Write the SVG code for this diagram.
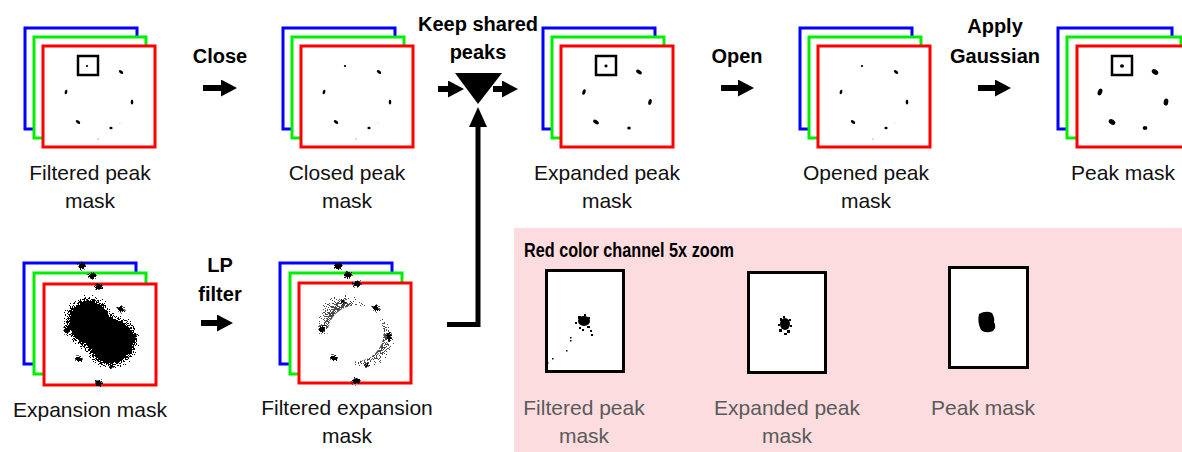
<svg xmlns="http://www.w3.org/2000/svg" width="1182" height="452" viewBox="0 0 1182 452">
<style>
.b{fill:#fff;stroke:#0000ff;stroke-width:3}
.g{fill:#fff;stroke:#00ee00;stroke-width:3}
.r{fill:#fff;stroke:#ff0000;stroke-width:3}
.zb{fill:none;stroke:#000;stroke-width:2.5}
.zbox{fill:#fff;stroke:#000;stroke-width:3}
.lbl{font-family:"Liberation Sans",Arial,sans-serif;font-size:21px;fill:#111;text-anchor:middle}
.plbl{font-family:"Liberation Sans",Arial,sans-serif;font-size:21px;fill:#5a5a5a;text-anchor:middle}
.op{font-family:"Liberation Sans",Arial,sans-serif;font-size:20px;font-weight:bold;fill:#000;text-anchor:middle}
.arr{stroke:#000;stroke-width:6;fill:none}
.dot{fill:#000}
</style>
<defs>
<marker id="ah" markerUnits="userSpaceOnUse" markerWidth="16" markerHeight="17" refX="0" refY="8.5" orient="auto"><path d="M0,0 L16,8.5 L0,17 Z" fill="#000"/></marker>
<marker id="ahv" markerUnits="userSpaceOnUse" markerWidth="20" markerHeight="18" refX="0" refY="9" orient="auto"><path d="M0,0 L20,9 L0,18 Z" fill="#000"/></marker>
<filter id="speck" x="-40%" y="-40%" width="180%" height="180%">
<feGaussianBlur in="SourceAlpha" stdDeviation="5" result="bl"/>
<feTurbulence type="fractalNoise" baseFrequency="1.2" numOctaves="1" seed="3" result="n"/>
<feComponentTransfer in="n" result="na"><feFuncA type="linear" slope="3.5" intercept="-1.2"/></feComponentTransfer>
<feColorMatrix in="na" type="matrix" values="0 0 0 0 0  0 0 0 0 0  0 0 0 0 0  0 0 0 1 0" result="nb"/>
<feComposite in="bl" in2="nb" operator="arithmetic" k2="2" k3="-1" k4="0" result="c"/>
<feComponentTransfer in="c"><feFuncA type="discrete" tableValues="0 1 1 1 1"/></feComponentTransfer>
</filter>
<filter id="speckS" x="-40%" y="-40%" width="180%" height="180%">
<feGaussianBlur in="SourceAlpha" stdDeviation="6" result="bl"/>
<feTurbulence type="fractalNoise" baseFrequency="1.2" numOctaves="1" seed="5" result="n"/>
<feComponentTransfer in="n" result="na"><feFuncA type="linear" slope="3.5" intercept="-1.2"/></feComponentTransfer>
<feColorMatrix in="na" type="matrix" values="0 0 0 0 0  0 0 0 0 0  0 0 0 0 0  0 0 0 1 0" result="nb"/>
<feComposite in="bl" in2="nb" operator="arithmetic" k2="1.15" k3="-1" k4="0" result="c"/>
<feComponentTransfer in="c"><feFuncA type="discrete" tableValues="0 1 1 1 1"/></feComponentTransfer>
</filter>
<filter id="speckL" x="-50%" y="-50%" width="200%" height="200%">
<feGaussianBlur in="SourceAlpha" stdDeviation="1.8" result="bl"/>
<feTurbulence type="fractalNoise" baseFrequency="1.3" numOctaves="1" seed="7" result="n"/>
<feComponentTransfer in="n" result="na"><feFuncA type="linear" slope="3" intercept="-1"/></feComponentTransfer>
<feColorMatrix in="na" type="matrix" values="0 0 0 0 0  0 0 0 0 0  0 0 0 0 0  0 0 0 1 0" result="nb"/>
<feComposite in="bl" in2="nb" operator="arithmetic" k2="1.8" k3="-1" k4="0" result="c"/>
<feComponentTransfer in="c"><feFuncA type="discrete" tableValues="0 0.6 1 1 1"/></feComponentTransfer>
</filter>
<filter id="soft"><feGaussianBlur stdDeviation="0.6"/></filter>
<g id="dotsSmall">
<ellipse cx="45" cy="21" rx="1.2" ry="1" class="dot"/>
<ellipse cx="79" cy="27" rx="2.5" ry="1.4" transform="rotate(35 79 27)" class="dot"/>
<ellipse cx="24" cy="47" rx="1.3" ry="2.3" transform="rotate(15 24 47)" class="dot"/>
<ellipse cx="90" cy="57" rx="1.3" ry="2.5" class="dot"/>
<ellipse cx="36" cy="77" rx="2.5" ry="1.4" transform="rotate(35 36 77)" class="dot"/>
<ellipse cx="69" cy="83" rx="1.6" ry="1.2" class="dot"/>
<circle cx="56" cy="94" r="0.7" fill="#999"/>
<circle cx="78" cy="78" r="0.6" fill="#bbb"/>
</g>
<g id="dotsMed">
<ellipse cx="46" cy="21" rx="1.6" ry="1.4" class="dot"/>
<ellipse cx="79" cy="27" rx="3.2" ry="1.8" transform="rotate(35 79 27)" class="dot"/>
<ellipse cx="24" cy="47" rx="1.6" ry="2.8" transform="rotate(20 24 47)" class="dot"/>
<ellipse cx="90" cy="57" rx="1.7" ry="3" transform="rotate(10 90 57)" class="dot"/>
<ellipse cx="36" cy="77" rx="3.2" ry="1.8" transform="rotate(35 36 77)" class="dot"/>
<ellipse cx="69" cy="83" rx="1.8" ry="1.5" class="dot"/>
</g>
<g id="dotsBig">
<ellipse cx="46" cy="21" rx="2" ry="1.8" class="dot"/>
<ellipse cx="79" cy="27" rx="3.6" ry="2.4" transform="rotate(35 79 27)" class="dot"/>
<ellipse cx="24" cy="47" rx="2.2" ry="3.5" transform="rotate(20 24 47)" class="dot"/>
<ellipse cx="90" cy="57" rx="2.3" ry="3.6" transform="rotate(10 90 57)" class="dot"/>
<ellipse cx="36" cy="77" rx="3.6" ry="2.5" transform="rotate(35 36 77)" class="dot"/>
<ellipse cx="69" cy="83" rx="2.3" ry="2" class="dot"/>
</g>
<g id="peaksFuzzy">
<ellipse cx="45" cy="20" rx="2.5" ry="2"/>
<ellipse cx="78" cy="26" rx="4" ry="2.5" transform="rotate(35 78 26)"/>
<ellipse cx="24" cy="47" rx="2.5" ry="4" transform="rotate(15 24 47)"/>
<ellipse cx="91" cy="55" rx="2.5" ry="4"/>
<ellipse cx="36" cy="76" rx="4" ry="2.5" transform="rotate(35 36 76)"/>
<ellipse cx="69" cy="83" rx="2.5" ry="2"/>
</g>
<g id="blob">
<ellipse cx="47" cy="40" rx="21" ry="23" transform="rotate(-30 47 40)"/>
<ellipse cx="69" cy="59" rx="23" ry="21" transform="rotate(-30 69 59)"/>
<ellipse cx="58" cy="50" rx="27" ry="15" transform="rotate(40 58 50)"/>
</g>
</defs>

<rect id="zoom-panel" x="514" y="228" width="668" height="224" fill="#fcdcde"/>

<g id="filtered-peak-mask">
<rect class="b" x="25" y="28" width="112" height="101"/>
<rect class="g" x="34" y="37" width="112" height="101"/>
<rect class="r" x="43" y="46" width="112" height="101"/>
<g transform="translate(42 45)"><use href="#dotsSmall"/><rect class="zb" x="36" y="11" width="20" height="19"/></g>
<text class="lbl" x="90" y="180">Filtered peak</text>
<text class="lbl" x="90" y="208">mask</text>
</g>

<g id="closed-peak-mask">
<rect class="b" x="283" y="28" width="112" height="101"/>
<rect class="g" x="292" y="37" width="112" height="101"/>
<rect class="r" x="301" y="46" width="112" height="101"/>
<g transform="translate(300 45)"><use href="#dotsSmall"/></g>
<text class="lbl" x="347" y="180">Closed peak</text>
<text class="lbl" x="347" y="208">mask</text>
</g>

<g id="keep-shared-peaks">
<polygon points="455,73 502,73 478,104" fill="#000"/>
<text class="op" x="478" y="31">Keep shared</text>
<text class="op" x="478" y="59">peaks</text>
</g>

<g id="expanded-peak-mask">
<rect class="b" x="543" y="28" width="112" height="101"/>
<rect class="g" x="552" y="37" width="112" height="101"/>
<rect class="r" x="561" y="46" width="112" height="101"/>
<g transform="translate(560 45)"><use href="#dotsMed"/><rect class="zb" x="36" y="11" width="20" height="19"/></g>
<text class="lbl" x="607" y="180">Expanded peak</text>
<text class="lbl" x="607" y="208">mask</text>
</g>

<g id="opened-peak-mask">
<rect class="b" x="800" y="28" width="112" height="101"/>
<rect class="g" x="809" y="37" width="112" height="101"/>
<rect class="r" x="818" y="46" width="112" height="101"/>
<g transform="translate(817 45)"><use href="#dotsSmall"/></g>
<text class="lbl" x="866" y="180">Opened peak</text>
<text class="lbl" x="866" y="208">mask</text>
</g>

<g id="peak-mask">
<rect class="b" x="1058" y="28" width="114" height="101"/>
<rect class="g" x="1067" y="37" width="114" height="101"/>
<rect class="r" x="1077" y="46" width="114" height="101"/>
<g transform="translate(1076 45)"><use href="#dotsBig"/><rect class="zb" x="36" y="11" width="20" height="19"/></g>
<text class="lbl" x="1123" y="180">Peak mask</text>
</g>

<g id="expansion-mask">
<rect class="b" x="24" y="263" width="112" height="101"/>
<ellipse cx="82" cy="266" rx="4" ry="3" class="dot" filter="url(#speckL)"/>
<rect class="g" x="34" y="273" width="112" height="101"/>
<ellipse cx="92" cy="276" rx="4" ry="3" class="dot" filter="url(#speckL)"/>
<rect class="r" x="44" y="284" width="112" height="101"/>
<g transform="translate(43 283)">
<use href="#blob" filter="url(#speck)"/>
<g filter="url(#speckL)">
<ellipse cx="56" cy="4" rx="4" ry="3"/>
<ellipse cx="56" cy="100" rx="4" ry="3"/>
<use href="#peaksFuzzy"/>
</g>
</g>
<text class="lbl" x="90" y="417">Expansion mask</text>
</g>

<g id="filtered-expansion-mask">
<rect class="b" x="280" y="263" width="112" height="101"/>
<ellipse cx="338" cy="266" rx="4" ry="3" class="dot" filter="url(#speckL)"/>
<rect class="g" x="290" y="273" width="112" height="101"/>
<ellipse cx="348" cy="275" rx="4" ry="3" class="dot" filter="url(#speckL)"/>
<rect class="r" x="299" y="283" width="112" height="100"/>
<g transform="translate(298 282)">
<use href="#blob" filter="url(#speckS)" opacity="0.7"/>
<circle cx="57.5" cy="51.5" r="28" fill="#fff"/>
<g filter="url(#speckL)">
<ellipse cx="59" cy="2" rx="4" ry="3"/>
<ellipse cx="58" cy="99" rx="4" ry="3"/>
<use href="#peaksFuzzy"/>
</g>
</g>
<text class="lbl" x="347" y="415">Filtered expansion</text>
<text class="lbl" x="347" y="443">mask</text>
</g>

<g id="connectors">
<line class="arr" x1="203" y1="88" x2="221" y2="88" marker-end="url(#ah)"/>
<line class="arr" x1="438" y1="89" x2="448" y2="89" marker-end="url(#ah)"/>
<line class="arr" x1="493" y1="89" x2="502" y2="89" marker-end="url(#ah)"/>
<line class="arr" x1="721" y1="88" x2="738" y2="88" marker-end="url(#ah)"/>
<line class="arr" x1="978" y1="88" x2="995" y2="88" marker-end="url(#ah)"/>
<line class="arr" x1="201" y1="323" x2="217" y2="323" marker-end="url(#ah)"/>
<polyline points="447,324.5 478,324.5 478,127" fill="none" stroke="#000" stroke-width="5" marker-end="url(#ahv)"/>
<text class="op" x="220" y="63">Close</text>
<text class="op" x="737" y="63">Open</text>
<text class="op" x="995" y="33">Apply</text>
<text class="op" x="995" y="63">Gaussian</text>
<text class="op" x="220" y="272">LP</text>
<text class="op" x="220" y="301">filter</text>
</g>

<g id="zoom-title">
<text x="524" y="257" font-family="Liberation Sans,Arial,sans-serif" font-size="20" font-weight="bold" textLength="210" lengthAdjust="spacingAndGlyphs">Red color channel 5x zoom</text>
</g>

<g id="zoom-filtered-peak">
<rect class="zbox" x="546.5" y="270.5" width="77" height="101"/>
<g filter="url(#soft)">
<ellipse cx="584" cy="321" rx="6" ry="5"/>
<rect x="578" y="316" width="3" height="3"/><rect x="588" y="317" width="2" height="2"/><rect x="587" y="326" width="3" height="2"/>
<rect x="579" y="327" width="2" height="2"/><rect x="590" y="330" width="2" height="2"/><rect x="591" y="334" width="2" height="2"/>
<rect x="575" y="322" width="2" height="2"/><rect x="584" y="314" width="2" height="2"/><rect x="582" y="329" width="2" height="2"/>
<rect x="570" y="337" width="1.5" height="1.5"/><rect x="570" y="340" width="1.5" height="1.5"/><rect x="566" y="350" width="1.5" height="1.5"/>
<rect x="552" y="358" width="1.5" height="1.5"/><rect x="547" y="362" width="1.5" height="1.5"/>
</g>
<text class="plbl" x="584" y="415">Filtered peak</text>
<text class="plbl" x="584" y="443">mask</text>
</g>

<g id="zoom-expanded-peak">
<rect class="zbox" x="748.5" y="272.5" width="77" height="100"/>
<g filter="url(#soft)">
<ellipse cx="785" cy="324" rx="5" ry="6"/>
<rect x="779" y="329" width="3" height="3"/><rect x="787" y="330" width="3" height="3"/><rect x="784" y="333" width="3" height="2"/>
<rect x="780" y="318" width="2" height="3"/><rect x="789" y="319" width="2" height="2"/><rect x="778" y="324" width="2" height="2"/>
<rect x="790" y="325" width="2" height="2"/><rect x="783" y="316" width="2" height="2"/>
</g>
<text class="plbl" x="787" y="415">Expanded peak</text>
<text class="plbl" x="787" y="443">mask</text>
</g>

<g id="zoom-peak-mask">
<rect class="zbox" x="949.5" y="267.5" width="78" height="100"/>
<path d="M979,314 Q986,310 992,313 Q995,318 994,322 Q997,327 993,331 Q986,334 981,330 Q977,322 979,314 Z" fill="#000" filter="url(#soft)"/>
<text class="plbl" x="983" y="415">Peak mask</text>
</g>
</svg>
